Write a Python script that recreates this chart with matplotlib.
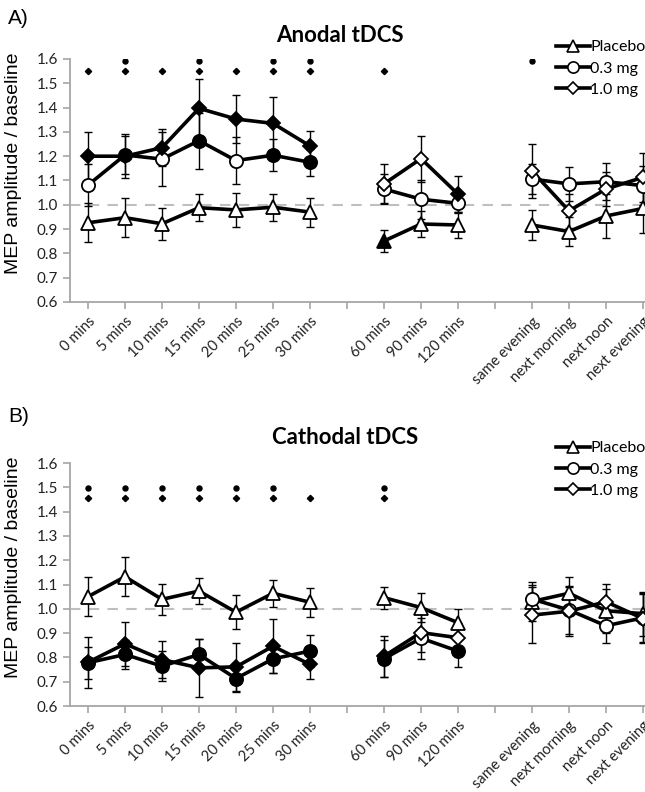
import numpy as np
import matplotlib
matplotlib.use('Agg')
import matplotlib.pyplot as plt
from matplotlib.lines import Line2D

nan = np.nan

categories = ['0 mins', '5 mins', '10 mins', '15 mins', '20 mins', '25 mins', '30 mins', '',
              '60 mins', '90 mins', '120 mins', '',
              'same evening', 'next morning', 'next noon', 'next evening']

# A) anodal tDCS
placebo_a = [0.926, 0.947, 0.922, 0.988, 0.979, 0.990, 0.970, nan, 0.851, 0.921, 0.917, nan, 0.917, 0.890, 0.954, 0.985]
placebo_a_err = [0.08, 0.08, 0.065, 0.055, 0.07, 0.055, 0.06, nan, 0.045, 0.055, 0.055, nan, 0.06, 0.06, 0.09, 0.10]
placebo_a_fill = [0, 0, 0, 0, 0, 0, 0, 0, 1, 0, 0, 0, 0, 0, 0, 0]
low_a = [1.081, 1.205, 1.188, 1.264, 1.182, 1.204, 1.175, nan, 1.065, 1.023, 1.006, nan, 1.106, 1.086, 1.095, 1.079]
low_a_err = [0.085, 0.08, 0.11, 0.115, 0.095, 0.065, 0.055, nan, 0.06, 0.08, 0.04, nan, 0.06, 0.07, 0.075, 0.08]
low_a_fill = [0, 1, 0, 1, 0, 1, 1, 0, 0, 0, 0, 0, 0, 0, 0, 0]
high_a = [1.200, 1.200, 1.235, 1.397, 1.353, 1.335, 1.242, nan, 1.086, 1.190, 1.044, nan, 1.139, 0.975, 1.065, 1.113]
high_a_err = [0.10, 0.09, 0.075, 0.12, 0.10, 0.11, 0.06, nan, 0.08, 0.095, 0.075, nan, 0.11, 0.07, 0.07, 0.10]
high_a_fill = [1, 1, 1, 1, 1, 1, 1, 0, 0, 0, 1, 0, 0, 0, 0, 0]
sig_low_a = [0, 1, 0, 1, 0, 1, 1, 0, 0, 0, 0, 0, 1, 0, 0, 0]
sig_high_a = [1, 1, 1, 1, 1, 1, 1, 0, 1, 0, 0, 0, 0, 0, 0, 0]

# B) cathodal tDCS
placebo_c = [1.050, 1.132, 1.039, 1.073, 0.986, 1.064, 1.027, nan, 1.046, 1.005, 0.943, nan, 1.030, 1.064, 0.992, 0.980]
placebo_c_err = [0.08, 0.08, 0.065, 0.055, 0.07, 0.055, 0.06, nan, 0.045, 0.06, 0.055, nan, 0.08, 0.065, 0.09, 0.09]
placebo_c_fill = [0, 0, 0, 0, 0, 0, 0, 0, 0, 0, 0, 0, 0, 0, 0, 0]
low_c = [0.778, 0.812, 0.764, 0.812, 0.713, 0.794, 0.826, nan, 0.795, 0.879, 0.826, nan, 1.040, 0.995, 0.930, 0.963]
low_c_err = [0.065, 0.06, 0.062, 0.065, 0.055, 0.06, 0.065, nan, 0.075, 0.085, 0.065, nan, 0.06, 0.10, 0.07, 0.10]
low_c_fill = [1, 1, 1, 1, 1, 1, 1, 0, 1, 0, 1, 0, 0, 0, 0, 0]
high_c = [0.780, 0.856, 0.791, 0.757, 0.761, 0.846, 0.771, nan, 0.805, 0.902, 0.881, nan, 0.974, 0.990, 1.029, 0.960]
high_c_err = [0.105, 0.09, 0.075, 0.12, 0.10, 0.11, 0.06, nan, 0.085, 0.08, 0.06, nan, 0.115, 0.10, 0.075, 0.10]
high_c_fill = [1, 1, 1, 1, 1, 1, 1, 0, 1, 0, 0, 0, 0, 0, 0, 0]
sig_low_c = [1, 1, 1, 1, 1, 1, 0, 0, 1, 0, 0, 0, 0, 0, 0, 0]
sig_high_c = [1, 1, 1, 1, 1, 1, 1, 0, 1, 0, 0, 0, 0, 0, 0, 0]

labels = ['Placebo', '0.3 mg', '1.0 mg']
markers = ['^', 'o', 'D']
msizes = [9.5, 9.5, 7]

calibri = ['Lato', 'DejaVu Sans']
arial = ['Liberation Sans', 'DejaVu Sans']
gray = '#a6a6a6'


def draw_panel(ax, series, sig_low, sig_high, y_low, y_high):
    x = np.arange(len(categories))
    ax.axhline(1.0, color='#bfbfbf', linestyle=(0, (5, 4)), linewidth=1.5, zorder=1)
    for (vals, err, fill), m, ms in zip(series, markers, msizes):
        vals = np.array(vals, dtype=float)
        err = np.array(err, dtype=float)
        fill = np.array(fill, dtype=bool)
        ax.errorbar(x, vals, yerr=err, fmt='none', ecolor='black', elinewidth=1,
                    capsize=3, capthick=1, zorder=2)
        ax.plot(x, vals, color='black', linewidth=2.6, zorder=3)
        ok = ~np.isnan(vals)
        ax.plot(x[ok & ~fill], vals[ok & ~fill], linestyle='none', marker=m, markersize=ms,
                markerfacecolor='white', markeredgecolor='black', markeredgewidth=1.3, zorder=4)
        ax.plot(x[ok & fill], vals[ok & fill], linestyle='none', marker=m, markersize=ms,
                markerfacecolor='black', markeredgecolor='black', markeredgewidth=1.3, zorder=4)
    sl = np.array(sig_low, dtype=bool)
    sh = np.array(sig_high, dtype=bool)
    ax.plot(x[sl], np.full(sl.sum(), y_low), linestyle='none', marker='o', markersize=3.6,
            color='black', zorder=4)
    ax.plot(x[sh], np.full(sh.sum(), y_high), linestyle='none', marker='D', markersize=3.2,
            color='black', zorder=4)

    ax.set_xlim(-0.5, 15.5)
    ax.set_ylim(0.6, 1.6)
    ax.set_yticks(np.arange(0.6, 1.61, 0.1))
    ax.set_yticklabels(['%.1f' % v for v in np.arange(0.6, 1.61, 0.1)], family=calibri, fontsize=11)
    ax.set_xticks(x)
    ax.set_xticklabels(categories, rotation=45, ha='right', rotation_mode='anchor',
                       family=calibri, fontsize=10.5)
    for s in ['top', 'right']:
        ax.spines[s].set_visible(False)
    for s in ['left', 'bottom']:
        ax.spines[s].set_color(gray)
        ax.spines[s].set_linewidth(1.3)
    ax.tick_params(axis='both', direction='out', length=5, color=gray, width=1.2, labelcolor='#222222')
    ax.tick_params(axis='x', pad=4)
    ax.set_ylabel('MEP amplitude / baseline', family=arial, fontsize=14)
    ax.yaxis.set_label_coords(-0.08, 0.57)
    ax.set_facecolor('white')


def add_legend(fig, y_top):
    handles = []
    for m, ms in zip(markers, msizes):
        handles.append(Line2D([], [], color='black', linewidth=2.6, marker=m, markersize=ms * 0.85,
                              markerfacecolor='white', markeredgecolor='black', markeredgewidth=1.2))
    fig.legend(handles, labels, loc='upper left', bbox_to_anchor=(548 / 645, y_top),
               frameon=False, prop={'family': calibri, 'size': 11.5}, handlelength=2.1,
               handletextpad=0.05, labelspacing=0.45, borderpad=0)


fig = plt.figure(figsize=(6.45, 7.92), dpi=100)
ax0 = fig.add_axes([69.5 / 645, 1 - 302 / 792, 592 / 645, 243 / 792])
ax1 = fig.add_axes([69.5 / 645, 1 - 706 / 792, 592 / 645, 243 / 792])

draw_panel(ax0, [(placebo_a, placebo_a_err, placebo_a_fill), (low_a, low_a_err, low_a_fill),
                 (high_a, high_a_err, high_a_fill)], sig_low_a, sig_high_a, 1.592, 1.552)
draw_panel(ax1, [(placebo_c, placebo_c_err, placebo_c_fill), (low_c, low_c_err, low_c_fill),
                 (high_c, high_c_err, high_c_fill)], sig_low_c, sig_high_c, 1.496, 1.456)

fig.text(340 / 645, 1 - 35 / 792, 'Anodal tDCS', ha='center', va='center', family=calibri,
         fontweight='bold', fontsize=16)
fig.text(345 / 645, 1 - 438 / 792, 'Cathodal tDCS', ha='center', va='center', family=calibri,
         fontweight='bold', fontsize=16)
fig.text(8 / 645, 1 - 18 / 792, 'A)', ha='left', va='center', family=arial, fontsize=15)
fig.text(8 / 645, 1 - 416 / 792, 'B)', ha='left', va='center', family=arial, fontsize=15)

add_legend(fig, 1 - 32 / 792)
add_legend(fig, 1 - 433 / 792)

plt.savefig('out.png', dpi=100, facecolor='white')
